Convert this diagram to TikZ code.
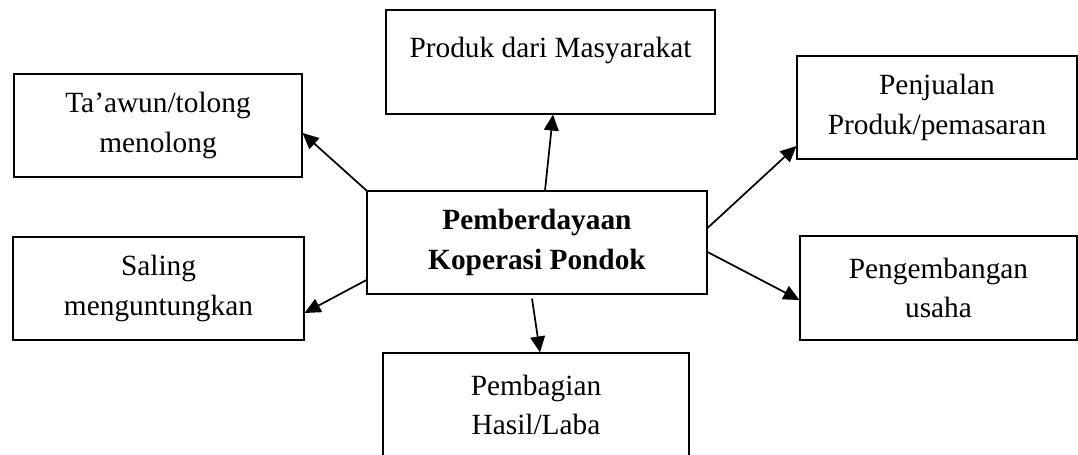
\documentclass[tikz,border=0pt]{standalone}
\usepackage{fontspec}
\setmainfont{Liberation Serif}
\usetikzlibrary{arrows.meta,calc}
\begin{document}
\begin{tikzpicture}[x=0.75pt,y=-0.75pt,
  font=\fontsize{22}{29.5}\selectfont,
  box/.style={draw=black,line width=0.8pt,align=center,inner sep=0pt},
  conn/.style={line width=1.3pt,-{Triangle[length=12pt,width=11pt]}}]
\useasboundingbox (0,0) rectangle (1078,454);
\node[box,minimum width=246.75pt,minimum height=78pt,text height=15pt,text depth=22.5pt] (t) at (550.5,62) {Produk dari Masyarakat};
\node[box,minimum width=216pt,minimum height=77.25pt] (a) at (158,125.5) {Ta’awun/tolong\\menolong};
\node[box,minimum width=218.25pt,minimum height=77.25pt] (s) at (158.5,288.5) {Saling\\menguntungkan};
\node[box,minimum width=210pt,minimum height=77.25pt] (p) at (937,107.5) {Penjualan\\Produk/pemasaran};
\node[box,minimum width=207.75pt,minimum height=78pt] (g) at (938.5,288) {Pengembangan\\usaha};
\node[box,minimum width=255pt,minimum height=77.25pt] (c) at (537,242.5) {\textbf{Pemberdayaan}\\\textbf{Koperasi Pondok}};
\node[box,minimum width=229.5pt,minimum height=78pt] (b) at (536,405) {Pembagian\\Hasil/Laba};
\draw[conn] ($(c.north)+(8,0)$) -- ($(t.south)+(2.5,0)$);
\draw[conn] (c.north west) -- ($(a.east)+(0,7.5)$);
\draw[conn] ($(c.east)+(0,-14.5)$) -- ($(p.west)+(0,38.5)$);
\draw[conn] ($(c.east)+(0,9.5)$) -- ($(g.west)+(0,12)$);
\draw[conn] ($(c.west)+(0,37.5)$) -- ($(s.east)+(0,24.5)$);
\draw[conn] ($(c.south)+(-5,4)$) -- ($(b.north)+(4,0)$);
\end{tikzpicture}
\end{document}
